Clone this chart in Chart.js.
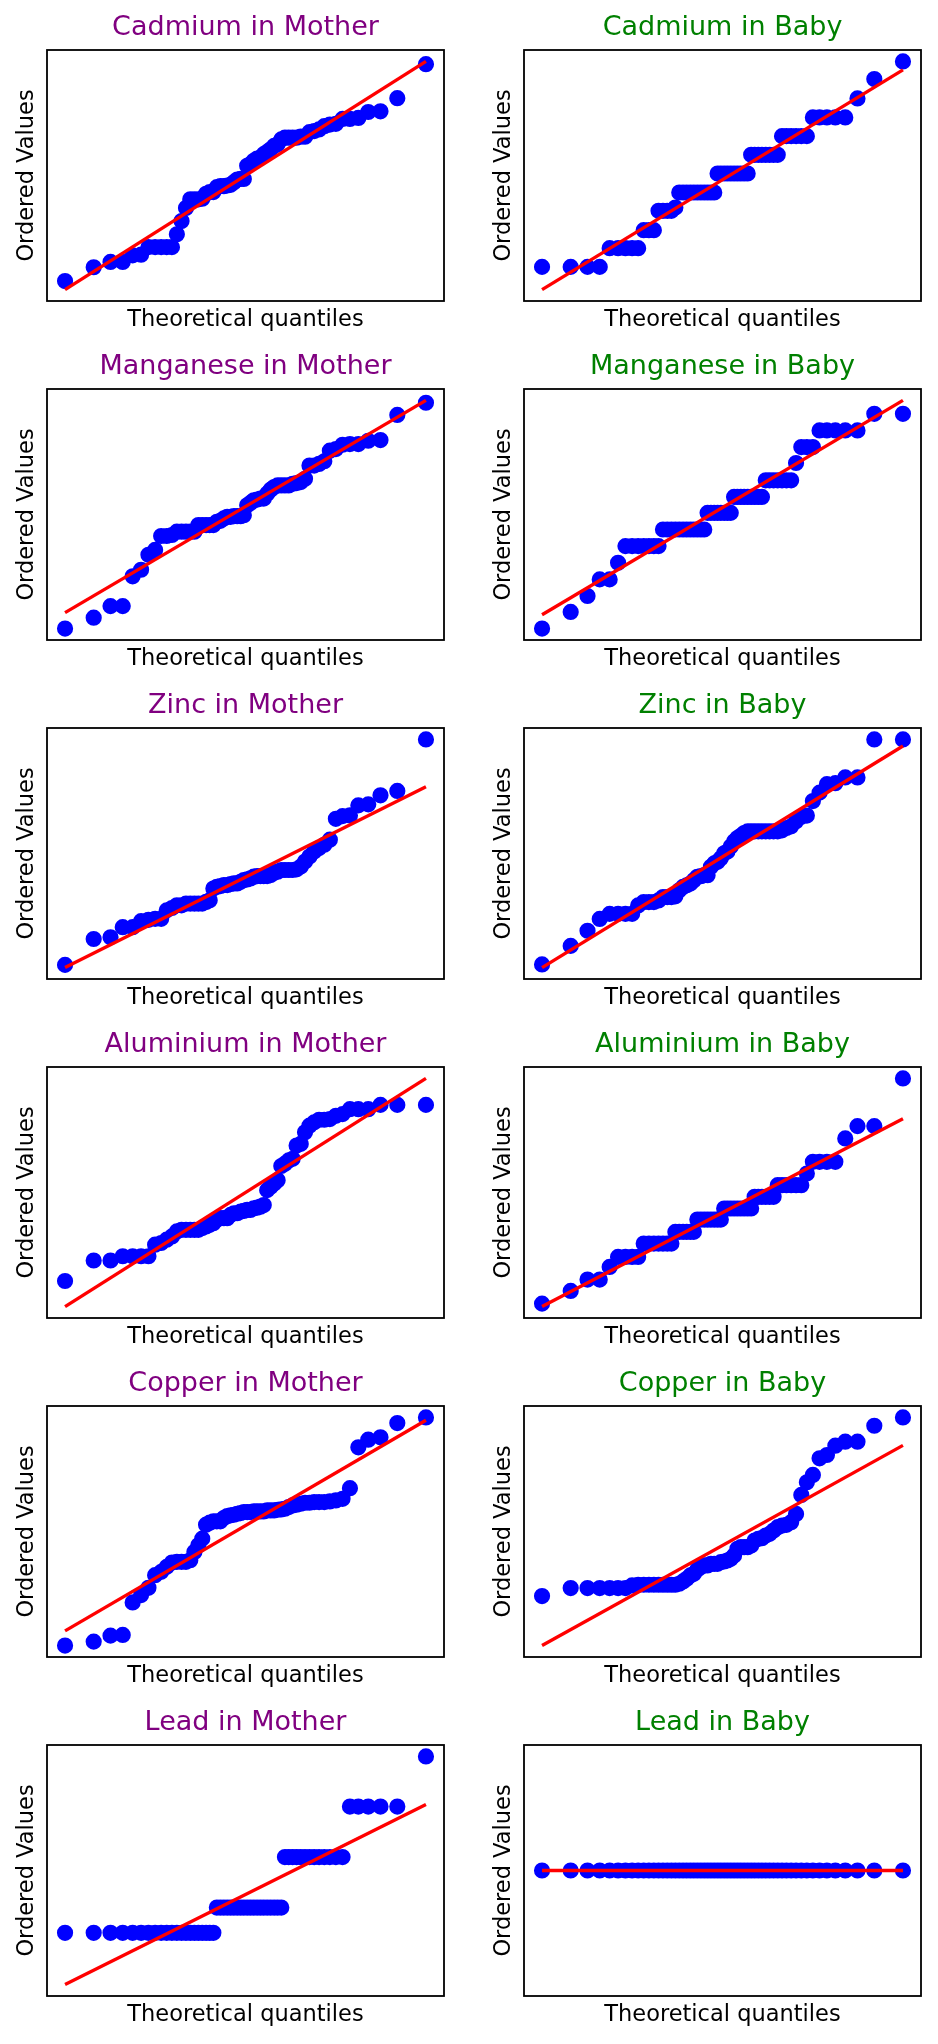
<!DOCTYPE html>
<html>
<head>
<meta charset="utf-8">
<title>Q-Q plots</title>
<script src="https://cdn.jsdelivr.net/npm/chart.js@4.4.1/dist/chart.umd.min.js"></script>
<style>
  html, body { margin: 0; padding: 0; background: #fff; overflow: hidden; }
  #page { position: relative; width: 938px; height: 2044px; background: #fff; }
  canvas { position: absolute; }
</style>
</head>
<body>
<div id="page"></div>
<script>
// theoretical quantiles (60 samples), same for every panel
var quantiles = [-2.274, -1.913, -1.701, -1.547, -1.422, -1.316, -1.223, -1.139, -1.063, -0.993,
  -0.927, -0.865, -0.806, -0.750, -0.696, -0.644, -0.594, -0.545, -0.497, -0.451,
  -0.405, -0.361, -0.317, -0.273, -0.230, -0.188, -0.146, -0.104, -0.062, -0.021,
  0.021, 0.062, 0.104, 0.146, 0.188, 0.230, 0.273, 0.317, 0.361, 0.405,
  0.451, 0.497, 0.545, 0.594, 0.644, 0.696, 0.750, 0.806, 0.865, 0.927,
  0.993, 1.063, 1.139, 1.223, 1.316, 1.422, 1.547, 1.701, 1.913, 2.274];

// ordered values (no scale shown on the chart, so units are relative)
var cadmiumMother = [7.0, 11.2, 12.8, 12.8, 14.8, 15.0, 17.3, 17.3, 17.3, 17.3,
  17.3, 21.2, 25.2, 29.2, 31.8, 31.8, 31.8, 32.0, 33.5, 34.0,
  34.0, 35.5, 35.8, 35.8, 36.0, 36.2, 37.0, 37.8, 38.0, 38.0,
  42.0, 42.5, 43.5, 44.2, 44.5, 45.5, 46.2, 47.0, 48.0, 48.5,
  50.0, 50.5, 50.5, 50.5, 50.5, 50.8, 50.8, 52.2, 52.5, 53.0,
  54.0, 54.5, 54.7, 56.2, 56.2, 56.5, 58.3, 58.5, 62.5, 72.8];
var cadmiumBaby = [11.2, 11.2, 11.2, 11.2, 16.8, 16.8, 16.8, 16.8, 16.8, 22.2,
  22.2, 22.2, 28.0, 28.0, 28.0, 28.0, 29.0, 33.5, 33.5, 33.5,
  33.5, 33.5, 33.5, 33.5, 33.5, 33.5, 33.5, 33.5, 39.2, 39.2,
  39.2, 39.2, 39.2, 39.2, 39.2, 39.2, 39.2, 39.2, 44.8, 44.8,
  44.8, 44.8, 44.8, 44.8, 44.8, 44.8, 50.4, 50.4, 50.4, 50.4,
  50.4, 50.4, 56.0, 56.0, 56.0, 56.0, 56.0, 61.7, 67.5, 72.8];
var manganeseMother = [4.2, 7.5, 11.0, 11.0, 20.0, 22.0, 26.5, 28.0, 32.2, 32.2,
  32.5, 33.5, 33.5, 33.5, 33.5, 33.5, 35.5, 35.5, 35.5, 35.5,
  35.5, 36.5, 36.8, 37.5, 38.0, 38.0, 38.2, 38.2, 38.2, 38.5,
  41.5, 42.2, 43.0, 43.2, 43.5, 43.5, 45.0, 46.2, 47.0, 47.5,
  47.5, 47.5, 47.5, 48.0, 48.2, 48.5, 49.5, 53.5, 53.5, 54.0,
  54.8, 58.0, 58.5, 59.8, 60.0, 60.0, 61.0, 61.2, 68.8, 72.5];
var manganeseBaby = [4.2, 9.2, 14.0, 19.0, 19.0, 24.0, 29.0, 29.0, 29.0, 29.0,
  29.0, 29.0, 29.0, 34.0, 34.0, 34.0, 34.0, 34.0, 34.0, 34.0,
  34.0, 34.0, 34.0, 34.0, 34.0, 39.0, 39.0, 39.0, 39.0, 39.0,
  39.0, 39.0, 39.0, 43.8, 43.8, 43.8, 43.8, 43.8, 43.8, 43.8,
  43.8, 43.8, 48.8, 48.8, 48.8, 48.8, 48.8, 48.8, 48.8, 54.0,
  58.8, 58.8, 58.8, 63.8, 63.8, 63.8, 63.8, 63.8, 68.8, 68.8];
var zincMother = [5.8, 13.5, 14.0, 17.0, 17.0, 18.8, 19.2, 19.5, 19.5, 22.0,
  22.7, 23.5, 23.5, 24.0, 24.0, 24.0, 24.0, 24.0, 24.5, 25.0,
  28.5, 29.0, 29.2, 29.5, 29.5, 29.8, 30.0, 30.0, 30.5, 31.0,
  31.2, 31.5, 32.0, 32.2, 32.2, 32.2, 32.2, 32.5, 33.2, 33.5,
  34.0, 34.0, 34.0, 34.0, 34.2, 35.0, 36.5, 38.0, 39.5, 40.5,
  41.5, 43.0, 49.2, 50.0, 50.2, 53.2, 53.5, 56.2, 57.5, 72.8];
var zincBaby = [6.0, 11.5, 16.0, 19.5, 21.0, 21.0, 21.0, 21.0, 23.5, 24.5,
  24.5, 24.5, 25.0, 26.0, 26.0, 26.0, 26.2, 28.0, 29.0, 29.5,
  30.0, 31.0, 32.0, 32.2, 32.5, 32.5, 35.0, 36.0, 36.5, 37.5,
  39.0, 39.5, 41.0, 42.5, 43.5, 44.2, 45.0, 45.5, 45.5, 45.5,
  45.5, 45.5, 45.5, 45.5, 45.5, 45.5, 45.8, 46.5, 47.0, 48.5,
  49.8, 50.2, 54.5, 57.0, 59.5, 59.8, 61.5, 61.5, 72.8, 72.8];
var aluminiumMother = [12.0, 18.2, 18.2, 19.5, 19.5, 19.5, 19.5, 23.0, 23.5, 24.5,
  25.5, 27.0, 27.5, 27.5, 27.5, 27.5, 27.5, 28.0, 28.5, 29.0,
  29.5, 30.5, 31.0, 31.0, 31.0, 32.0, 32.5, 32.5, 33.0, 33.2,
  33.5, 33.5, 34.0, 34.2, 34.5, 35.0, 39.5, 40.5, 41.5, 42.5,
  46.8, 47.5, 48.5, 49.0, 53.0, 53.5, 57.0, 59.0, 60.0, 60.8,
  60.8, 61.0, 62.0, 62.5, 64.0, 64.0, 64.0, 65.3, 65.3, 65.3];
var aluminiumBaby = [5.0, 8.8, 12.2, 12.2, 16.0, 19.0, 19.0, 19.0, 19.0, 23.0,
  23.0, 23.0, 23.0, 23.0, 23.0, 23.0, 26.5, 26.5, 26.5, 26.5,
  26.5, 26.5, 30.2, 30.2, 30.2, 30.2, 30.2, 30.2, 30.2, 30.2,
  33.5, 33.5, 33.5, 33.5, 33.5, 33.5, 33.5, 33.5, 33.5, 37.0,
  37.0, 37.0, 37.0, 37.0, 37.0, 40.5, 40.5, 40.5, 40.5, 40.5,
  40.5, 44.0, 47.5, 47.5, 47.5, 47.5, 54.5, 58.2, 58.2, 72.5];
var copperMother = [3.8, 5.0, 6.8, 7.0, 16.8, 19.0, 21.2, 25.0, 26.0, 27.5,
  28.8, 29.0, 29.0, 29.0, 29.5, 32.0, 34.0, 36.0, 40.2, 40.8,
  41.2, 41.2, 41.2, 42.2, 42.8, 43.0, 43.2, 43.5, 43.7, 44.0,
  44.0, 44.0, 44.2, 44.2, 44.2, 44.2, 44.5, 44.5, 44.5, 44.7,
  44.8, 45.0, 45.5, 46.0, 46.2, 46.5, 46.8, 46.8, 47.0, 47.0,
  47.0, 47.2, 47.5, 48.0, 51.2, 63.5, 65.8, 66.5, 70.8, 72.5];
var copperBaby = [18.8, 21.2, 21.2, 21.2, 21.2, 21.2, 21.2, 22.0, 22.2, 22.2,
  22.2, 22.2, 22.2, 22.2, 22.2, 22.2, 22.2, 22.5, 23.2, 24.0,
  25.0, 25.5, 26.8, 27.5, 28.0, 28.0, 28.5, 28.5, 28.5, 29.0,
  29.2, 29.5, 30.0, 31.0, 33.0, 33.5, 33.5, 33.5, 34.0, 35.5,
  36.0, 36.2, 37.0, 37.5, 38.5, 39.5, 40.0, 40.2, 41.0, 43.5,
  49.2, 53.0, 55.2, 60.2, 61.2, 64.0, 65.2, 65.2, 70.0, 72.5];
var leadMother = [19.2, 19.2, 19.2, 19.2, 19.2, 19.2, 19.2, 19.2, 19.2, 19.2,
  19.2, 19.2, 19.2, 19.2, 19.2, 19.2, 19.2, 19.2, 19.2, 19.2,
  19.2, 26.8, 26.8, 26.8, 26.8, 26.8, 26.8, 26.8, 26.8, 26.8,
  26.8, 26.8, 26.8, 26.8, 26.8, 26.8, 26.8, 26.8, 26.8, 26.8,
  26.8, 42.0, 42.0, 42.0, 42.0, 42.0, 42.0, 42.0, 42.0, 42.0,
  42.0, 42.0, 42.0, 42.0, 57.2, 57.2, 57.2, 57.2, 57.2, 72.3];
var leadBaby = [40.0, 40.0, 40.0, 40.0, 40.0, 40.0, 40.0, 40.0, 40.0, 40.0,
  40.0, 40.0, 40.0, 40.0, 40.0, 40.0, 40.0, 40.0, 40.0, 40.0,
  40.0, 40.0, 40.0, 40.0, 40.0, 40.0, 40.0, 40.0, 40.0, 40.0,
  40.0, 40.0, 40.0, 40.0, 40.0, 40.0, 40.0, 40.0, 40.0, 40.0,
  40.0, 40.0, 40.0, 40.0, 40.0, 40.0, 40.0, 40.0, 40.0, 40.0,
  40.0, 40.0, 40.0, 40.0, 40.0, 40.0, 40.0, 40.0, 40.0, 40.0];

var panelTitles = ["Cadmium in Mother", "Cadmium in Baby", "Manganese in Mother", "Manganese in Baby",
  "Zinc in Mother", "Zinc in Baby", "Aluminium in Mother", "Aluminium in Baby",
  "Copper in Mother", "Copper in Baby", "Lead in Mother", "Lead in Baby"];
var panelValues = [cadmiumMother, cadmiumBaby, manganeseMother, manganeseBaby,
  zincMother, zincBaby, aluminiumMother, aluminiumBaby,
  copperMother, copperBaby, leadMother, leadBaby];

Chart.defaults.font.family = "'DejaVu Sans', sans-serif";

// draws the four spines round the plot area
var frame = {
  id: "frame",
  afterDatasetsDraw: function(chart) {
    var a = chart.chartArea;
    var c = chart.ctx;
    c.save();
    c.strokeStyle = "#000";
    c.lineWidth = 1.8;
    c.strokeRect(a.left, a.top, a.right - a.left, a.bottom - a.top);
    c.restore();
  }
};

// least squares line through (quantile, value), like probplot's fit
function fitLine(q, v) {
  var n = q.length, mq = 0, mv = 0, sxy = 0, sxx = 0;
  for (var i = 0; i < n; i++) { mq += q[i]; mv += v[i]; }
  mq /= n; mv /= n;
  for (i = 0; i < n; i++) {
    sxy += (q[i] - mq) * (v[i] - mv);
    sxx += (q[i] - mq) * (q[i] - mq);
  }
  var slope = sxy / sxx;
  var icpt = mv - slope * mq;
  return [{ x: q[0], y: icpt + slope * q[0] }, { x: q[n - 1], y: icpt + slope * q[n - 1] }];
}

// 5% margins the way matplotlib autoscales
function padded(lo, hi) {
  if (hi === lo) {
    var d = Math.abs(lo) * 0.05 || 1;
    return [lo - d, hi + d];
  }
  var m = (hi - lo) * 0.05;
  return [lo - m, hi + m];
}

var page = document.getElementById("page");

for (var p = 0; p < panelValues.length; p++) {
  var vals = panelValues[p];
  var col = p % 2;
  var row = Math.floor(p / 2);
  var cv = document.createElement("canvas");
  cv.width = 460;
  cv.height = 339;
  cv.style.left = (col ? 477 : 0) + "px";
  cv.style.top = (row * 339) + "px";
  page.appendChild(cv);

  var pts = [];
  for (var i = 0; i < vals.length; i++) pts.push({ x: quantiles[i], y: vals[i] });
  var line = fitLine(quantiles, vals);

  var lo = Math.min(Math.min.apply(null, vals), line[0].y, line[1].y);
  var hi = Math.max(Math.max.apply(null, vals), line[0].y, line[1].y);
  var yr = padded(lo, hi);
  var xr = padded(quantiles[0], quantiles[quantiles.length - 1]);

  new Chart(cv.getContext("2d"), {
    type: "scatter",
    data: {
      datasets: [
        {
          data: line,
          showLine: true,
          borderColor: "#ff0000",
          borderWidth: 3.4,
          pointRadius: 0,
          order: 0
        },
        {
          data: pts,
          backgroundColor: "#0000ff",
          borderColor: "#0000ff",
          borderWidth: 2.2,
          pointRadius: 7,
          order: 1
        }
      ]
    },
    options: {
      responsive: false,
      animation: false,
      devicePixelRatio: 1,
      layout: { padding: { top: 0, left: 0, right: 16, bottom: 0 } },
      plugins: {
        legend: { display: false },
        tooltip: { enabled: false },
        title: {
          display: true,
          text: panelTitles[p],
          color: col ? "#008000" : "#800080",
          fullSize: false,
          font: { size: 27, weight: "normal", lineHeight: 1.2 },
          padding: { top: 12, bottom: 5.6 }
        }
      },
      scales: {
        x: {
          type: "linear",
          min: xr[0],
          max: xr[1],
          ticks: { display: false },
          grid: { display: false },
          border: { display: false },
          title: {
            display: true,
            text: "Theoretical quantiles",
            color: "#000",
            font: { size: 22.5, lineHeight: 1.2 },
            padding: { top: 0, bottom: 5 }
          },
          afterFit: function(s) { s.height = 38; }
        },
        y: {
          type: "linear",
          min: yr[0],
          max: yr[1],
          ticks: { display: false },
          grid: { display: false },
          border: { display: false },
          title: {
            display: true,
            text: "Ordered Values",
            color: "#000",
            font: { size: 22.5, lineHeight: 1.2 },
            padding: { top: 13.5, bottom: 0 }
          },
          afterFit: function(s) { s.width = 47; }
        }
      }
    },
    plugins: [frame]
  });
}
</script>
</body>
</html>
